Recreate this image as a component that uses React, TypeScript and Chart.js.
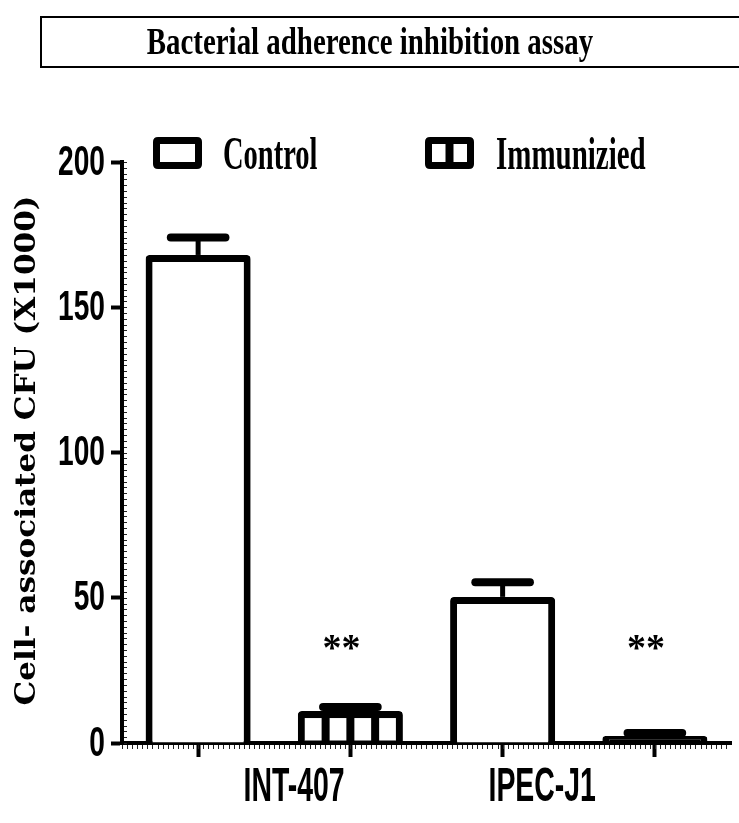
import React, { useEffect, useRef } from 'react';
import { Chart, registerables } from 'chart.js';

Chart.register(...registerables);

// ---- data ----
const categories = ['INT-407 Control', 'INT-407 Immunizied', 'IPEC-J1 Control', 'IPEC-J1 Immunizied'];
const seriesNames = ['Control', 'Immunizied'];
const controlMeans = [168, null, 50.3, null];
const controlErrors = [6, null, 5, null];
const immunMeans = [null, 11, null, 2.4];
const immunErrors = [null, 1.4, null, 1];
const significance = ['', '**', '', '**'];
const significanceLevel = 32;
const groupLabels = ['INT-407', 'IPEC-J1'];
const groupLabelPositions = [0.63, 2.26];
const yTickValues = [0, 50, 100, 150, 200];
const yMinorStep = 2;
const titleText = 'Bacterial adherence inhibition assay';
const yTitleText = 'Cell- associated CFU (X1000)';

// ---- helpers ----
function drawScaledText(ctx: CanvasRenderingContext2D, text: string, x: number, y: number, font: string, sx: number, align: CanvasTextAlign, baseline: CanvasTextBaseline) {
  ctx.save();
  ctx.font = font;
  ctx.translate(x, y);
  ctx.scale(sx, 1);
  ctx.textAlign = align;
  ctx.textBaseline = baseline;
  ctx.fillStyle = '#000';
  ctx.fillText(text, 0, 0);
  ctx.restore();
}

function roundRectPath(ctx: CanvasRenderingContext2D, x: number, y: number, w: number, h: number, r: number) {
  ctx.beginPath();
  ctx.moveTo(x + r, y);
  ctx.lineTo(x + w - r, y);
  ctx.quadraticCurveTo(x + w, y, x + w, y + r);
  ctx.lineTo(x + w, y + h - r);
  ctx.quadraticCurveTo(x + w, y + h, x + w - r, y + h);
  ctx.lineTo(x + r, y + h);
  ctx.quadraticCurveTo(x, y + h, x, y + h - r);
  ctx.lineTo(x, y + r);
  ctx.quadraticCurveTo(x, y, x + r, y);
  ctx.closePath();
}

const BORDER = 7;
const DIVIDER = 8;

const customPlugin = {
  id: 'customDecor',
  beforeDraw(chart: any) {
    const ctx = chart.ctx;
    ctx.save();
    ctx.fillStyle = '#fff';
    ctx.fillRect(0, 0, chart.width, chart.height);
    ctx.restore();
  },
  afterDatasetsDraw(chart: any) {
    const ctx: CanvasRenderingContext2D = chart.ctx;
    const y = chart.scales.y;
    const errs = [controlErrors, immunErrors];
    const means = [controlMeans, immunMeans];
    ctx.save();
    // white cells inside immunized (black) bars
    const meta1 = chart.getDatasetMeta(1);
    meta1.data.forEach((bar: any, i: number) => {
      if (immunMeans[i] == null) return;
      const p = bar.getProps(['x', 'y', 'base', 'width'], true);
      const left = p.x - p.width / 2 + BORDER;
      const right = p.x + p.width / 2 - BORDER;
      const cell = (right - left - 3 * DIVIDER) / 4;
      const top = p.y + BORDER;
      const bottom = p.base - 2;
      if (bottom - top < 2) return;
      ctx.fillStyle = '#fff';
      for (let k = 0; k < 4; k++) {
        const cx = left + k * (cell + DIVIDER);
        ctx.fillRect(cx, top, cell, bottom - top);
      }
    });
    // error bars
    [0, 1].forEach((di) => {
      const meta = chart.getDatasetMeta(di);
      meta.data.forEach((bar: any, i: number) => {
        const m = means[di][i];
        const e = errs[di][i];
        if (m == null || e == null) return;
        const p = bar.getProps(['x', 'y', 'width'], true);
        const top = y.getPixelForValue(m + e);
        const half = p.width * 0.26;
        ctx.strokeStyle = '#000';
        ctx.lineWidth = 5;
        ctx.lineCap = 'butt';
        ctx.beginPath();
        ctx.moveTo(p.x, p.y);
        ctx.lineTo(p.x, top);
        ctx.stroke();
        ctx.lineWidth = 8;
        ctx.lineCap = 'round';
        ctx.beginPath();
        ctx.moveTo(p.x - half, top);
        ctx.lineTo(p.x + half, top);
        ctx.stroke();
      });
    });
    // significance stars
    const xs = chart.scales.x;
    significance.forEach((s, i) => {
      if (!s) return;
      drawScaledText(ctx, s, xs.getPixelForValue(i) - 9, y.getPixelForValue(significanceLevel), 'bold 38px "Liberation Serif"', 1, 'center', 'middle');
    });
    ctx.restore();
  },
  afterDraw(chart: any) {
    const ctx: CanvasRenderingContext2D = chart.ctx;
    const xs = chart.scales.x;
    const ys = chart.scales.y;
    const area = chart.chartArea;
    ctx.save();

    // minor ticks y
    ctx.fillStyle = '#222';
    for (let v = 0; v <= 200; v += yMinorStep) {
      const py = Math.round(ys.getPixelForValue(v));
      ctx.fillRect(area.left + 2, py, 3, 1);
    }
    // minor ticks x
    const step = (xs.getPixelForValue(1) - xs.getPixelForValue(0)) / 30;
    for (let px = area.left; px <= area.right; px += step) {
      ctx.fillRect(Math.round(px), area.bottom + 2, 1, 4);
    }

    // y tick labels
    yTickValues.forEach((v) => {
      drawScaledText(ctx, String(v), area.left - 17, ys.getPixelForValue(v) + 1, 'bold 42px "Liberation Sans"', 0.67, 'right', 'middle');
    });

    // group labels
    groupLabels.forEach((g, i) => {
      drawScaledText(ctx, g, xs.getPixelForValue(groupLabelPositions[i]), 801, 'bold 49px "Liberation Sans"', 0.58, 'center', 'alphabetic');
    });

    // y title (rotated)
    ctx.save();
    ctx.translate(28, (area.top + area.bottom) / 2 - 2);
    ctx.rotate(-Math.PI / 2);
    ctx.font = 'bold 27px "DejaVu Serif"';
    const w = ctx.measureText(yTitleText).width;
    const sx = 510 / w;
    ctx.scale(sx, 1);
    ctx.textAlign = 'center';
    ctx.textBaseline = 'middle';
    ctx.fillStyle = '#000';
    ctx.fillText(yTitleText, 0, 0);
    ctx.restore();

    // title box
    ctx.strokeStyle = '#000';
    ctx.lineWidth = 2;
    ctx.strokeRect(41, 17, 720, 50);
    drawScaledText(ctx, titleText, 370, 54, 'bold 38px "Liberation Serif"', 0.76, 'center', 'alphabetic');

    // legend
    const boxY = 137, boxH = 32, boxW = 49, r = 5, lw = 7;
    const drawBox = (bx: number, dividers: number) => {
      ctx.fillStyle = '#000';
      roundRectPath(ctx, bx, boxY, boxW, boxH, r);
      ctx.fill();
      const innerL = bx + lw, innerW = boxW - 2 * lw;
      const cells = dividers + 1;
      const cw = (innerW - dividers * DIVIDER) / cells;
      ctx.fillStyle = '#fff';
      for (let c = 0; c < cells; c++) {
        ctx.fillRect(innerL + c * (cw + DIVIDER), boxY + lw, cw, boxH - 2 * lw);
      }
    };
    drawBox(153, 0);
    drawScaledText(ctx, seriesNames[0], 223, 169, 'bold 46px "Liberation Serif"', 0.62, 'left', 'alphabetic');
    drawBox(425, 1);
    drawScaledText(ctx, seriesNames[1], 496, 169, 'bold 46px "Liberation Serif"', 0.63, 'left', 'alphabetic');

    ctx.restore();
  },
};

export default function App() {
  const ref = useRef<HTMLCanvasElement>(null);
  useEffect(() => {
    document.body.style.margin = '0';
    const canvas = ref.current!;
    const common = {
      borderColor: '#000',
      borderWidth: BORDER,
      borderRadius: 4,
      borderSkipped: 'bottom' as const,
      grouped: false,
      barPercentage: 0.69,
      categoryPercentage: 1,
    };
    const chart = new Chart(canvas, {
      type: 'bar',
      data: {
        labels: categories,
        datasets: [
          { ...common, label: seriesNames[0], data: controlMeans, backgroundColor: '#fff' },
          { ...common, label: seriesNames[1], data: immunMeans, backgroundColor: '#000' },
        ],
      },
      options: {
        responsive: false,
        animation: false,
        layout: { padding: { top: 162, right: 8, left: 0, bottom: 0 } },
        plugins: { legend: { display: false }, title: { display: false }, tooltip: { enabled: false } },
        scales: {
          x: {
            type: 'category',
            offset: true,
            grid: { display: true, offset: false, drawOnChartArea: false, drawTicks: true, tickLength: 14, tickWidth: 4, tickColor: '#000' },
            border: { display: true, color: '#000', width: 4 },
            ticks: { display: false },
            afterFit: (s: any) => { s.height = 80; },
          },
          y: {
            type: 'linear',
            min: 0,
            max: 200,
            ticks: { display: false, stepSize: 50 },
            grid: { display: true, drawOnChartArea: false, drawTicks: true, tickLength: 11, tickWidth: 4, tickColor: '#000' },
            border: { display: true, color: '#000', width: 4 },
            afterFit: (s: any) => { s.width = 122; },
          },
        },
      } as any,
      plugins: [customPlugin],
    });
    return () => chart.destroy();
  }, []);
  return <canvas ref={ref} width={739} height={823} style={{ display: 'block' }} />;
}
